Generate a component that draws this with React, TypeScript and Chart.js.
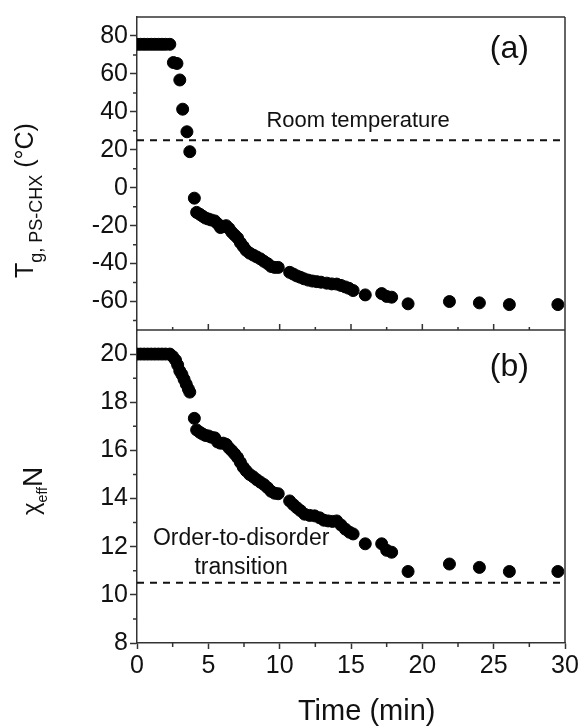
import React, { useEffect, useRef } from "react";
import { Chart, registerables } from "chart.js";

Chart.register(...registerables);

// ---------- data ----------
// Panel (a): glass transition temperature of PS-CHX vs time
const timeA = [
  0, 0.25, 0.5, 0.75, 1.0, 1.25, 1.5, 1.75, 2.0, 2.3,
  2.55, 2.8, 3.0, 3.2, 3.5, 3.7,
  4.02, 4.18, 4.4, 4.6, 4.8, 5.0, 5.2, 5.45, 5.65, 5.85,
  6.05, 6.25, 6.45, 6.65, 6.85, 7.05, 7.25, 7.45, 7.65, 7.9,
  8.15, 8.4, 8.65, 8.9, 9.15, 9.4, 9.65, 9.9,
  10.7, 10.95, 11.2, 11.45, 11.7, 12.0, 12.3, 12.6, 12.9, 13.3,
  13.65, 14.0, 14.3, 14.6, 14.85, 15.15,
  16.0, 17.15, 17.5, 17.85, 19.0, 21.9, 24.0, 26.1, 29.5,
];
const tgA = [
  75.6, 75.6, 75.6, 75.6, 75.6, 75.6, 75.6, 75.6, 75.6, 75.6,
  66, 65.5, 56.8, 41.4, 29.5, 19,
  -5.5, -13, -14, -15, -16, -16.5, -17, -17.5, -19, -21,
  -20.5, -20, -21.5, -23.5, -25, -26.5, -29, -31, -33, -34.5,
  -35.5, -36.5, -37.5, -38.8, -40, -41.5, -42, -42,
  -44.6, -45.5, -46.5, -47.2, -48, -48.7, -49.2, -49.5, -49.8, -50.3,
  -50.7, -50.8, -51.5, -52.3, -53, -54.2,
  -56.5, -55.8, -57.3, -57.7, -61.2, -60, -60.7, -61.6, -61.6,
];

// Panel (b): chi_eff N vs time
const timeB = [
  0, 0.25, 0.5, 0.75, 1.0, 1.25, 1.5, 1.75, 2.0, 2.3,
  2.5, 2.7, 2.85, 3.0, 3.15, 3.3, 3.45, 3.6, 3.7,
  4.02, 4.18, 4.4, 4.6, 4.8, 5.0, 5.2, 5.45, 5.65, 5.85,
  6.05, 6.25, 6.45, 6.65, 6.85, 7.05, 7.25, 7.45, 7.65, 7.9,
  8.15, 8.4, 8.65, 8.9, 9.15, 9.4, 9.65, 9.9,
  10.7, 10.95, 11.2, 11.45, 11.75, 12.1, 12.45, 12.8, 13.1, 13.4,
  13.7, 14.0, 14.3, 14.6, 14.9, 15.15,
  16.0, 17.15, 17.5, 17.85, 19.0, 21.9, 24.0, 26.1, 29.5,
];
const chiB = [
  20, 20, 20, 20, 20, 20, 20, 20, 20, 20,
  19.9, 19.75, 19.55, 19.3, 19.15, 18.95, 18.75, 18.55, 18.42,
  17.33, 16.85, 16.75, 16.68, 16.62, 16.6, 16.55, 16.52, 16.35, 16.3,
  16.3, 16.25, 16.1, 15.98, 15.85, 15.7, 15.5, 15.3, 15.15, 15.0,
  14.9, 14.78, 14.68, 14.58, 14.45, 14.3, 14.22, 14.2,
  13.9, 13.75, 13.62, 13.5, 13.35, 13.3, 13.28, 13.2, 13.1, 13.07,
  13.05, 13.07, 12.9, 12.73, 12.6, 12.53,
  12.12, 12.12, 11.85, 11.77, 10.97, 11.28, 11.14, 10.97, 10.97,
];

const roomTemperature = 25;
const odtValue = 10.5;
const xRange = [0, 30];
const yRangeA = [-75, 90];
const yRangeB = [8, 21];
const xStep = 5;
const yStepA = 20;
const yStepB = 2;

// ---------- styles ----------
const FONT = "'Liberation Sans', Arial, Helvetica, sans-serif";
const TEXT = "#111";
const FRAME = "#333";

const pairs = (xs: number[], ys: number[]) => xs.map((x, i) => ({ x, y: ys[i] }));

function drawVertical(
  ctx: CanvasRenderingContext2D,
  x: number,
  y: number,
  parts: { text: string; size: number; dy: number }[]
) {
  ctx.save();
  ctx.translate(x, y);
  ctx.rotate(-Math.PI / 2);
  ctx.textAlign = "left";
  ctx.textBaseline = "alphabetic";
  ctx.fillStyle = TEXT;
  let cx = 0;
  for (const p of parts) {
    ctx.font = `${p.size}px ${FONT}`;
    ctx.fillText(p.text, cx, p.dy);
    cx += ctx.measureText(p.text).width;
  }
  ctx.restore();
}

const framePlugin = {
  id: "frameAndLabels",
  afterDraw(chart: any) {
    const { ctx, chartArea, scales } = chart;
    const xs = scales.x;
    const ya = scales.ya;
    const yb = scales.yb;
    ctx.save();
    ctx.strokeStyle = FRAME;
    ctx.lineWidth = 1.5;
    ctx.beginPath();
    // top, right, and panel separator
    ctx.moveTo(chartArea.left, ya.top);
    ctx.lineTo(chartArea.right, ya.top);
    ctx.moveTo(chartArea.right, ya.top);
    ctx.lineTo(chartArea.right, yb.bottom);
    ctx.moveTo(chartArea.left, ya.bottom);
    ctx.lineTo(chartArea.right, ya.bottom);
    // minor y ticks (a)
    for (let v = -70; v < yRangeA[1]; v += yStepA) {
      const py = ya.getPixelForValue(v);
      ctx.moveTo(chartArea.left - 4, py);
      ctx.lineTo(chartArea.left, py);
    }
    // minor y ticks (b)
    for (let v = 9; v < yRangeB[1]; v += yStepB) {
      const py = yb.getPixelForValue(v);
      ctx.moveTo(chartArea.left - 4, py);
      ctx.lineTo(chartArea.left, py);
    }
    // x ticks: bottom minor, separator inward ticks
    for (let v = xRange[0] + xStep / 2; v < xRange[1]; v += xStep) {
      const px = xs.getPixelForValue(v);
      ctx.moveTo(px, yb.bottom);
      ctx.lineTo(px, yb.bottom + 4);
      ctx.moveTo(px, ya.bottom);
      ctx.lineTo(px, ya.bottom - 3);
    }
    for (let v = xRange[0] + xStep; v < xRange[1]; v += xStep) {
      const px = xs.getPixelForValue(v);
      ctx.moveTo(px, ya.bottom);
      ctx.lineTo(px, ya.bottom - 6);
    }
    ctx.stroke();

    // annotations
    ctx.fillStyle = TEXT;
    ctx.textAlign = "center";
    ctx.textBaseline = "middle";
    ctx.font = `32px ${FONT}`;
    ctx.fillText("(a)", xs.getPixelForValue(26.1), ya.getPixelForValue(72.8));
    ctx.fillText("(b)", xs.getPixelForValue(26.1), yb.getPixelForValue(19.47));
    ctx.font = `22px ${FONT}`;
    ctx.fillText("Room temperature", xs.getPixelForValue(15.5), ya.getPixelForValue(35.4));
    ctx.font = `23px ${FONT}`;
    ctx.fillText("Order-to-disorder", xs.getPixelForValue(7.3), yb.getPixelForValue(12.33));
    ctx.fillText("transition", xs.getPixelForValue(7.3), yb.getPixelForValue(11.14));

    // x-axis title (sits slightly right of the plot centre in the reference)
    ctx.font = `29px ${FONT}`;
    ctx.fillText("Time (min)", xs.getPixelForValue(16.1), 712);
    ctx.restore();

    // rotated axis titles with subscripts
    drawVertical(ctx, 33, 278, [
      { text: "T", size: 25, dy: 0 },
      { text: "g, PS-CHX", size: 18, dy: 9 },
      { text: " (\u00B0C)", size: 25, dy: 0 },
    ]);
    drawVertical(ctx, 41.7, 515, [
      { text: "\u03C7", size: 24, dy: -3 },
      { text: "eff", size: 14, dy: 5 },
      { text: "N", size: 28, dy: 0 },
    ]);
  },
};

export default function App() {
  const ref = useRef<HTMLCanvasElement>(null);
  useEffect(() => {
    document.body.style.margin = "0";
    Chart.defaults.font.family = FONT;
    const tickFont = { size: 25, family: FONT };
    const chart = new Chart(ref.current as HTMLCanvasElement, {
      type: "scatter",
      data: {
        datasets: [
          {
            label: "Room temperature",
            data: [
              { x: xRange[0], y: roomTemperature },
              { x: xRange[1], y: roomTemperature },
            ],
            yAxisID: "ya",
            showLine: true,
            pointRadius: 0,
            borderColor: "#111",
            borderWidth: 2,
            borderDash: [7, 6],
          },
          {
            label: "ODT",
            data: [
              { x: xRange[0], y: odtValue },
              { x: xRange[1], y: odtValue },
            ],
            yAxisID: "yb",
            showLine: true,
            pointRadius: 0,
            borderColor: "#111",
            borderWidth: 2,
            borderDash: [7, 6],
          },
          {
            label: "Tg",
            data: pairs(timeA, tgA),
            yAxisID: "ya",
            pointRadius: 6,
            pointBorderWidth: 1,
            backgroundColor: "#000",
            borderColor: "#000",
          },
          {
            label: "chiN",
            data: pairs(timeB, chiB),
            yAxisID: "yb",
            pointRadius: 6,
            pointBorderWidth: 1,
            backgroundColor: "#000",
            borderColor: "#000",
          },
        ],
      },
      options: {
        animation: false,
        responsive: true,
        maintainAspectRatio: false,
        layout: { padding: { top: 14, right: 19, left: 0, bottom: 0 } },
        plugins: { legend: { display: false }, tooltip: { enabled: false } },
        scales: {
          x: {
            type: "linear",
            position: "bottom",
            min: xRange[0],
            max: xRange[1],
            ticks: { stepSize: xStep, autoSkip: false, font: tickFont, color: TEXT, padding: 2 },
            grid: { drawOnChartArea: false, tickLength: 6, color: FRAME, tickWidth: 1.5 },
            border: { color: FRAME, width: 1.5 },
            title: { display: false },
            afterFit: (s: any) => {
              s.height = 85;
            },
          },
          yb: {
            type: "linear",
            position: "left",
            stack: "panels",
            stackWeight: 1,
            min: yRangeB[0],
            max: yRangeB[1],
            ticks: { stepSize: yStepB, includeBounds: false, autoSkip: false, font: tickFont, color: TEXT, padding: 2 },
            grid: { drawOnChartArea: false, tickLength: 7, color: FRAME, tickWidth: 1.5 },
            border: { color: FRAME, width: 1.5 },
            afterFit: (s: any) => {
              s.width = 137;
            },
          },
          ya: {
            type: "linear",
            position: "left",
            stack: "panels",
            stackWeight: 1,
            min: yRangeA[0],
            max: yRangeA[1],
            ticks: { stepSize: yStepA, includeBounds: false, autoSkip: false, font: tickFont, color: TEXT, padding: 2 },
            grid: { drawOnChartArea: false, tickLength: 7, color: FRAME, tickWidth: 1.5 },
            border: { color: FRAME, width: 1.5 },
            afterFit: (s: any) => {
              s.width = 137;
            },
          },
        },
      } as any,
      plugins: [framePlugin],
    });
    return () => chart.destroy();
  }, []);
  return (
    <div style={{ width: 584, height: 728, position: "relative" }}>
      <canvas ref={ref} />
    </div>
  );
}
